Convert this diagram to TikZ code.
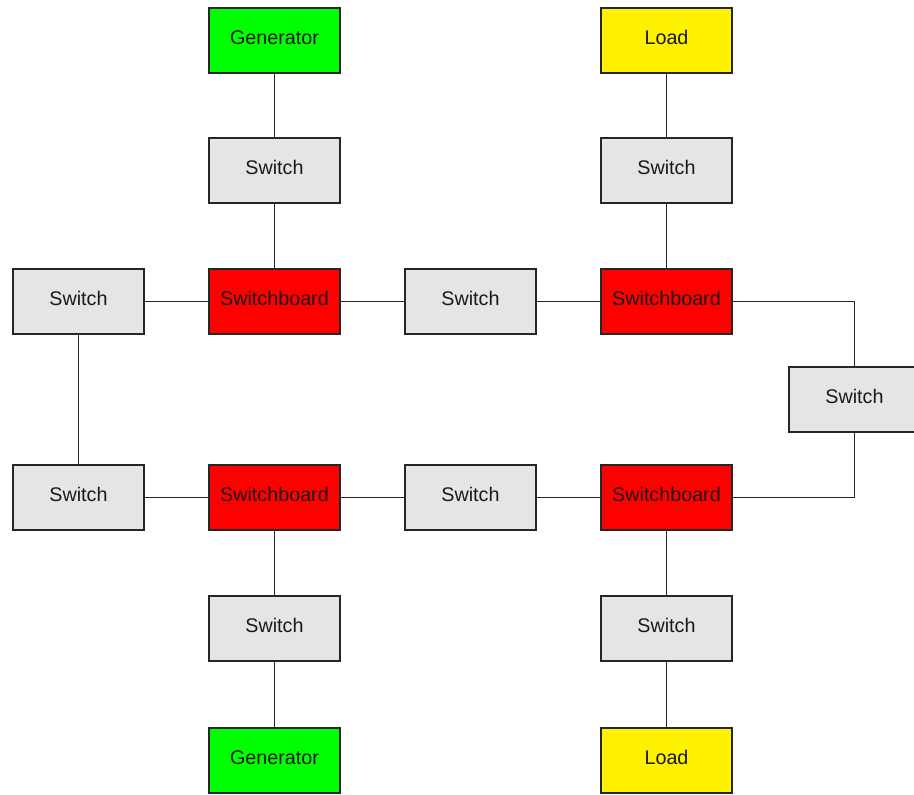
\documentclass[tikz,border=0pt]{standalone}
\usepackage{fontspec}
\setmainfont{Liberation Sans}
\begin{document}
\begin{tikzpicture}[x=0.75pt,y=-0.75pt,
  unit/.style={draw=black!85,line width=1pt,minimum width=98.25pt,minimum height=48.75pt,
    inner sep=0pt,text height=10.6pt,text depth=4.5pt,
    font=\fontsize{14.8}{18}\selectfont,text=black!90},
  switchbox/.style={unit,fill=black!10},
  boardbox/.style={unit,fill=red},
  genbox/.style={unit,fill=green},
  loadbox/.style={unit,fill=yellow},
  wire/.style={draw=black!85,line width=1pt}]
\useasboundingbox (0,0) rectangle (914,794);
\clip (0,0) rectangle (914,794);
% upper generator and load feeders
\node[genbox]    (gen1)  at (274.5,40.5)  {Generator};
\node[switchbox] (swg1)  at (274.5,170.5) {Switch};
\node[loadbox]   (load1) at (666.5,40.5)  {Load};
\node[switchbox] (swl1)  at (666.5,170.5) {Switch};
% upper bus
\node[switchbox] (swa)   at (78.5,301.5)  {Switch};
\node[boardbox]  (sb1)   at (274.5,301.5) {Switchboard};
\node[switchbox] (swb)   at (470.5,301.5) {Switch};
\node[boardbox]  (sb2)   at (666.5,301.5) {Switchboard};
% ring tie on the right
\node[switchbox] (swr)   at (854.5,399.5) {Switch};
% lower bus
\node[switchbox] (swc)   at (78.5,497.5)  {Switch};
\node[boardbox]  (sb3)   at (274.5,497.5) {Switchboard};
\node[switchbox] (swd)   at (470.5,497.5) {Switch};
\node[boardbox]  (sb4)   at (666.5,497.5) {Switchboard};
% lower generator and load feeders
\node[switchbox] (swg2)  at (274.5,628.5) {Switch};
\node[genbox]    (gen2)  at (274.5,760.5) {Generator};
\node[switchbox] (swl2)  at (666.5,628.5) {Switch};
\node[loadbox]   (load2) at (666.5,760.5) {Load};

\draw[wire] (gen1) -- (swg1) -- (sb1);
\draw[wire] (load1) -- (swl1) -- (sb2);
\draw[wire] (swa) -- (sb1) -- (swb) -- (sb2);
\draw[wire] (sb2.east) -| (swr.north);
\draw[wire] (swr.south) |- (sb4.east);
\draw[wire] (swa) -- (swc);
\draw[wire] (swc) -- (sb3) -- (swd) -- (sb4);
\draw[wire] (sb3) -- (swg2) -- (gen2);
\draw[wire] (sb4) -- (swl2) -- (load2);
\end{tikzpicture}
\end{document}
